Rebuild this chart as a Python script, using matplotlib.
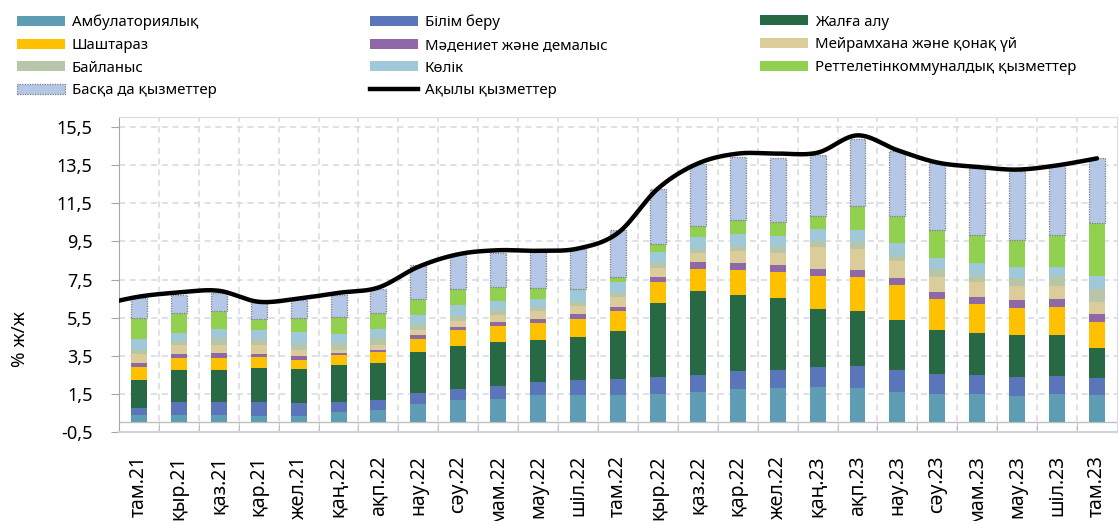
import numpy as np
import matplotlib
matplotlib.use('Agg')
import matplotlib.pyplot as plt
from matplotlib.patches import Patch
from matplotlib.lines import Line2D

plt.rcParams['font.family'] = ['Noto Sans', 'DejaVu Sans']

labels = ['там.21', 'қыр.21', 'қаз.21', 'қар.21', 'жел.21', 'қаң.22', 'ақп.22',
          'нау.22', 'сәу.22', 'мам.22', 'мау.22', 'шіл.22', 'там.22', 'қыр.22',
          'қаз.22', 'қар.22', 'жел.22', 'қаң.23', 'ақп.23', 'нау.23', 'сәу.23',
          'мам.23', 'мау.23', 'шіл.23', 'там.23']

# contributions, pp (bottom -> top)
amb = [0.38, 0.38, 0.38, 0.35, 0.35, 0.52, 0.65, 0.94, 1.15, 1.22, 1.42, 1.45, 1.43,
       1.47, 1.57, 1.73, 1.78, 1.85, 1.80, 1.59, 1.47, 1.47, 1.36, 1.47, 1.42]
bilim = [0.35, 0.67, 0.67, 0.70, 0.65, 0.53, 0.50, 0.58, 0.62, 0.70, 0.68, 0.75, 0.84,
         0.91, 0.91, 0.96, 0.97, 1.05, 1.14, 1.14, 1.05, 1.00, 1.02, 0.96, 0.89]
zhalga = [1.49, 1.70, 1.70, 1.78, 1.78, 1.98, 1.96, 2.19, 2.24, 2.28, 2.24, 2.26, 2.54,
          3.87, 4.41, 4.01, 3.79, 3.05, 2.92, 2.66, 2.33, 2.24, 2.19, 2.17, 1.58]
shash = [0.68, 0.64, 0.64, 0.60, 0.51, 0.48, 0.58, 0.68, 0.82, 0.87, 0.89, 0.99, 1.03,
         1.10, 1.16, 1.31, 1.37, 1.73, 1.77, 1.82, 1.62, 1.52, 1.45, 1.45, 1.39]
madeniet = [0.21, 0.21, 0.23, 0.17, 0.21, 0.13, 0.12, 0.17, 0.16, 0.19, 0.21, 0.23, 0.23,
            0.28, 0.35, 0.37, 0.37, 0.37, 0.35, 0.35, 0.37, 0.37, 0.40, 0.42, 0.41]
meiram = [0.45, 0.44, 0.44, 0.44, 0.28, 0.17, 0.25, 0.28, 0.34, 0.37, 0.40, 0.44, 0.49,
          0.47, 0.52, 0.61, 0.64, 1.14, 1.10, 0.91, 0.79, 0.75, 0.74, 0.70, 0.61]
bailanys = [0.21, 0.21, 0.35, 0.32, 0.35, 0.37, 0.35, 0.32, 0.27, 0.25, 0.23, 0.21, 0.21,
            0.28, 0.19, 0.25, 0.30, 0.35, 0.40, 0.30, 0.40, 0.40, 0.40, 0.54, 0.72]
kolik = [0.58, 0.45, 0.49, 0.49, 0.59, 0.47, 0.47, 0.45, 0.56, 0.50, 0.40, 0.60, 0.61,
         0.59, 0.60, 0.63, 0.58, 0.61, 0.63, 0.63, 0.58, 0.61, 0.59, 0.44, 0.64]
rettelet = [1.13, 1.02, 0.96, 0.56, 0.76, 0.86, 0.84, 0.88, 0.85, 0.71, 0.58, 0.09, 0.23,
            0.39, 0.61, 0.78, 0.75, 0.70, 1.28, 1.45, 1.49, 1.49, 1.45, 1.68, 2.79]
baska = [1.03, 0.96, 0.91, 0.89, 0.94, 1.19, 1.29, 1.78, 1.82, 1.82, 1.94, 2.11, 2.49,
         2.89, 3.24, 3.29, 3.34, 3.22, 3.52, 3.39, 3.50, 3.52, 3.59, 3.68, 3.44]

# paid services, % y/y (first value is шіл.21, off the left edge)
akyly = [6.15, 6.60, 6.82, 6.91, 6.33, 6.50, 6.80, 7.08, 8.17, 8.83, 9.04, 9.01, 9.13,
         9.95, 12.28, 13.60, 14.12, 14.12, 14.17, 15.08, 14.30, 13.65, 13.42, 13.28,
         13.50, 13.87]

series = [
    ('Амбулаториялық', amb, '#5E9DB3'),
    ('Білім беру', bilim, '#5A75B9'),
    ('Жалға алу', zhalga, '#276845'),
    ('Шаштараз', shash, '#FFC000'),
    ('Мәдениет және демалыс', madeniet, '#8E69A6'),
    ('Мейрамхана және қонақ үй', meiram, '#DBCC99'),
    ('Байланыс', bailanys, '#B7C5A8'),
    ('Көлік', kolik, '#9FC8D9'),
    ('Реттелетінкоммуналдық қызметтер', rettelet, '#92D050'),
    ('Басқа да қызметтер', baska, '#B4C7E7'),
]


def smooth(xs, ys, n=24):
    # excel-like smoothed line (catmull-rom as bezier)
    p = np.column_stack([xs, ys]).astype(float)
    out = []
    for i in range(len(p) - 1):
        p0 = p[i - 1] if i > 0 else p[i]
        p1, p2 = p[i], p[i + 1]
        p3 = p[i + 2] if i + 2 < len(p) else p[i + 1]
        c1 = p1 + (p2 - p0) / 6
        c2 = p2 - (p3 - p1) / 6
        t = np.linspace(0, 1, n)[:, None]
        seg = (1 - t) ** 3 * p1 + 3 * (1 - t) ** 2 * t * c1 + 3 * (1 - t) * t ** 2 * c2 + t ** 3 * p2
        out.append(seg if i == 0 else seg[1:])
    out = np.vstack(out)
    return out[:, 0], out[:, 1]


fig = plt.figure(figsize=(11.18, 5.21), dpi=100)
ax = fig.add_axes([0.1064, 0.1714, 0.8927, 0.6035])

x = np.arange(len(labels))
bottom = np.zeros(len(labels))
for name, vals, col in series:
    if name == 'Басқа да қызметтер':
        ax.bar(x, vals, 0.4, bottom=bottom, color=col, edgecolor='#7F7F7F',
               linewidth=0.9, linestyle=(0, (1, 1)), zorder=3)
    else:
        ax.bar(x, vals, 0.4, bottom=bottom, color=col, edgecolor='none', zorder=3)
    bottom += np.array(vals)

lx = np.arange(-1, len(labels))
sx, sy = smooth(lx, akyly)
ax.plot(sx, sy, color='black', lw=3.2, solid_capstyle='round', zorder=5)

ax.set_xlim(-0.5, len(labels) - 0.5)
ax.set_ylim(-0.5, 16.03)

yt = np.arange(-0.5, 15.6, 2)
ax.set_yticks(yt)
ax.set_yticklabels([('%.1f' % v).replace('.', ',') for v in yt], fontsize=13)
ax.tick_params(axis='y', length=6, color='#A6A6A6', pad=13)

ax.set_xticks(x)
ax.set_xticklabels(labels, rotation=90, va='top', ha='center', fontsize=14)
ax.set_xticks(x[:-1] + 0.5, minor=True)
ax.tick_params(axis='x', which='major', length=0, pad=17)
ax.tick_params(axis='x', which='minor', direction='in', length=7, color='#BFBFBF')

for v in yt:
    ax.axhline(v, color='#D5D8E2', lw=1.1, ls=(0, (4, 3)), zorder=1)
for v in x[:-1] + 0.5:
    ax.axvline(v, color='#D9D9D9', lw=1.1, ls=(0, (4, 3)), zorder=1)
ax.axhline(0, color='#BFBFBF', lw=1, zorder=2)

ax.spines['left'].set_color('#A6A6A6')
ax.spines['bottom'].set_color('#D0D0DE')
ax.spines['bottom'].set_linewidth(1.5)
ax.spines['top'].set_color('#DADAE6')
ax.spines['right'].set_color('#DADAE6')

fig.text(0.018, 1 - 339 / 521, '% ж/ж', rotation=90, va='center', ha='center', fontsize=13.5)

# legend in three columns, row-wise order like the original
leg_cols = [
    (17, ['Амбулаториялық', 'Шаштараз', 'Байланыс', 'Басқа да қызметтер']),
    (370, ['Білім беру', 'Мәдениет және демалыс', 'Көлік', 'Ақылы қызметтер']),
    (760, ['Жалға алу', 'Мейрамхана және қонақ үй', 'Реттелетінкоммуналдық қызметтер']),
]
for px, names in leg_cols:
    hs = []
    for nm in names:
        if nm == 'Ақылы қызметтер':
            hs.append(Line2D([], [], color='black', lw=3.2))
        elif nm == 'Басқа да қызметтер':
            hs.append(Patch(facecolor='#B4C7E7', edgecolor='#7F7F7F', lw=0.9, ls=(0, (1, 1))))
        else:
            col = [c for n, v, c in series if n == nm][0]
            hs.append(Patch(facecolor=col, edgecolor='none'))
    fig.legend(hs, names, loc='upper left', bbox_to_anchor=(px / 1118, 1 - 14.5 / 521),
               frameon=False, fontsize=10.8, handlelength=3.2, handleheight=0.65,
               handletextpad=0.45, labelspacing=0.52, borderpad=0, borderaxespad=0)

fig.savefig('out.png', dpi=100)
